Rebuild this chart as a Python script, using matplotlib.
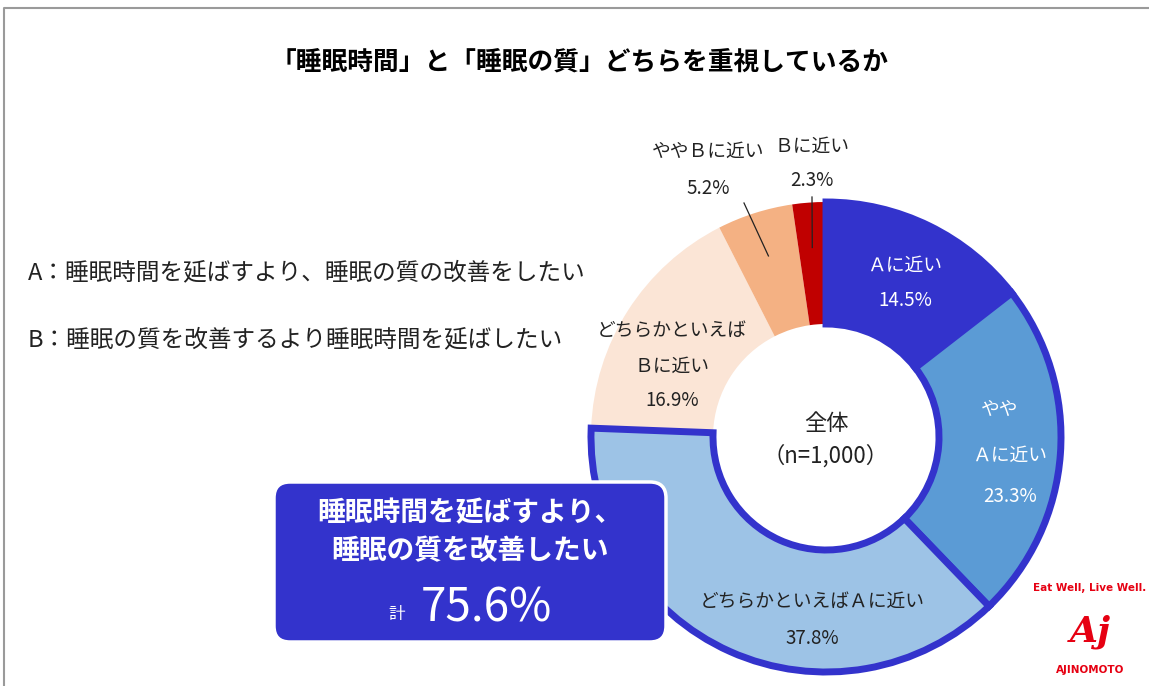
import numpy as np
import matplotlib.pyplot as plt
from matplotlib.patches import FancyBboxPatch

plt.rcParams['font.family'] = ['Noto Sans CJK JP', 'DejaVu Sans']

# データ
labels = ['Ａに近い', 'ややＡに近い', 'どちらかといえばＡに近い',
          'どちらかといえばＢに近い', 'ややＢに近い', 'Ｂに近い']
values = [14.5, 23.3, 37.8, 16.9, 5.2, 2.3]
colors = ['#3333CC', '#5B9BD5', '#9DC3E6', '#FBE5D6', '#F4B183', '#C00000']
is_a = [True, True, True, False, False, False]
total_a = sum(v for v, a in zip(values, is_a) if a)

W, H = 1149, 686
fig = plt.figure(figsize=(W / 100, H / 100), dpi=100)
ax = fig.add_axes([0, 0, 1, 1])

def Y(y):
    # 画像座標(上から)をデータ座標に変換
    return H - y

cx, cy = 826, Y(437)
r_out, r_in = 235, 113

wedges, _ = ax.pie(values, colors=colors, startangle=90, counterclock=False,
                   radius=r_out, center=(cx, cy),
                   wedgeprops=dict(width=r_out - r_in, linewidth=0))
for w, a in zip(wedges, is_a):
    if a:
        w.set_edgecolor('#3333CC')
        w.set_linewidth(5)
        w.set_zorder(3)
    else:
        w.set_zorder(2)

ax.set_xlim(0, W)
ax.set_ylim(0, H)
ax.set_aspect('equal')
ax.axis('off')

# 枠線
ax.plot([4, 4, W], [0, Y(8), Y(8)], color='#9a9a9a', lw=1.5, zorder=1)

# タイトル
ax.text(580, Y(62), '「睡眠時間」と「睡眠の質」どちらを重視しているか',
        ha='center', va='center', fontsize=18.5, fontweight='bold', color='#000000')

# A/B 説明
ax.text(28, Y(273), 'A：睡眠時間を延ばすより、睡眠の質の改善をしたい',
        ha='left', va='center', fontsize=17, color='#222222')
ax.text(28, Y(340), 'B：睡眠の質を改善するより睡眠時間を延ばしたい',
        ha='left', va='center', fontsize=17, color='#222222')

# 中央
ax.text(cx, Y(424), '全体', ha='center', va='center', fontsize=16, color='#222222')
ax.text(cx, Y(456), '（n=1,000）', ha='center', va='center', fontsize=16, color='#222222')

# 各スライスのラベル
fs = 13.5
ax.text(905, Y(265), labels[0], ha='center', va='center', fontsize=fs, color='white', zorder=5)
ax.text(905, Y(300), f'{values[0]}%', ha='center', va='center', fontsize=fs, color='white', zorder=5)

ax.text(1000, Y(410), 'やや', ha='center', va='center', fontsize=fs, color='white', zorder=5)
ax.text(1010, Y(455), 'Ａに近い', ha='center', va='center', fontsize=fs, color='white', zorder=5)
ax.text(1010, Y(497), f'{values[1]}%', ha='center', va='center', fontsize=fs, color='white', zorder=5)

ax.text(812, Y(601), labels[2], ha='center', va='center', fontsize=fs, color='#222222', zorder=5)
ax.text(812, Y(638), f'{values[2]}%', ha='center', va='center', fontsize=fs, color='#222222', zorder=5)

ax.text(672, Y(330), 'どちらかといえば', ha='center', va='center', fontsize=fs, color='#222222', zorder=5)
ax.text(672, Y(366), 'Ｂに近い', ha='center', va='center', fontsize=fs, color='#222222', zorder=5)
ax.text(672, Y(400), f'{values[3]}%', ha='center', va='center', fontsize=fs, color='#222222', zorder=5)

ax.text(708, Y(151), labels[4], ha='center', va='center', fontsize=fs, color='#222222')
ax.text(708, Y(188), f'{values[4]}%', ha='center', va='center', fontsize=fs, color='#222222')
ax.text(812, Y(146), labels[5], ha='center', va='center', fontsize=fs, color='#222222')
ax.text(812, Y(181), f'{values[5]}%', ha='center', va='center', fontsize=fs, color='#222222')

# 引き出し線
for w, end in zip(wedges[4:], [(744, Y(203)), (812, Y(197))]):
    th = np.deg2rad((w.theta1 + w.theta2) / 2)
    px, py = cx + 190 * np.cos(th), cy + 190 * np.sin(th)
    ax.plot([end[0], px], [end[1], py], color='#222222', lw=0.9, zorder=6)

# まとめボックス
box = FancyBboxPatch((274, Y(642)), 392, 160,
                     boxstyle='round,pad=0,rounding_size=16',
                     facecolor='#3333CC', edgecolor='white', lw=2.5, zorder=7)
ax.add_patch(box)
ax.text(470, Y(513), '睡眠時間を延ばすより、', ha='center', va='center',
        fontsize=20, fontweight='bold', color='white', zorder=8)
ax.text(470, Y(551), '睡眠の質を改善したい', ha='center', va='center',
        fontsize=20, fontweight='bold', color='white', zorder=8)
ax.text(397, Y(614), '計', ha='center', va='center', fontsize=12, color='white', zorder=8)
ax.text(486, Y(608), f'{total_a:.1f}%', ha='center', va='center',
        fontsize=33, color='white', zorder=8)

# ロゴ
ax.text(1090, Y(588), 'Eat Well, Live Well.', ha='center', va='center',
        fontsize=7.5, fontweight='bold', color='#E60012', family='DejaVu Sans')
ax.text(1090, Y(632), 'Aj', ha='center', va='center', fontsize=26,
        fontweight='bold', style='italic', color='#E60012', family='DejaVu Serif')
ax.text(1090, Y(670), 'AJINOMOTO', ha='center', va='center',
        fontsize=7.5, fontweight='bold', color='#E60012', family='DejaVu Sans')

fig.savefig('out.png', dpi=100, facecolor='white')
